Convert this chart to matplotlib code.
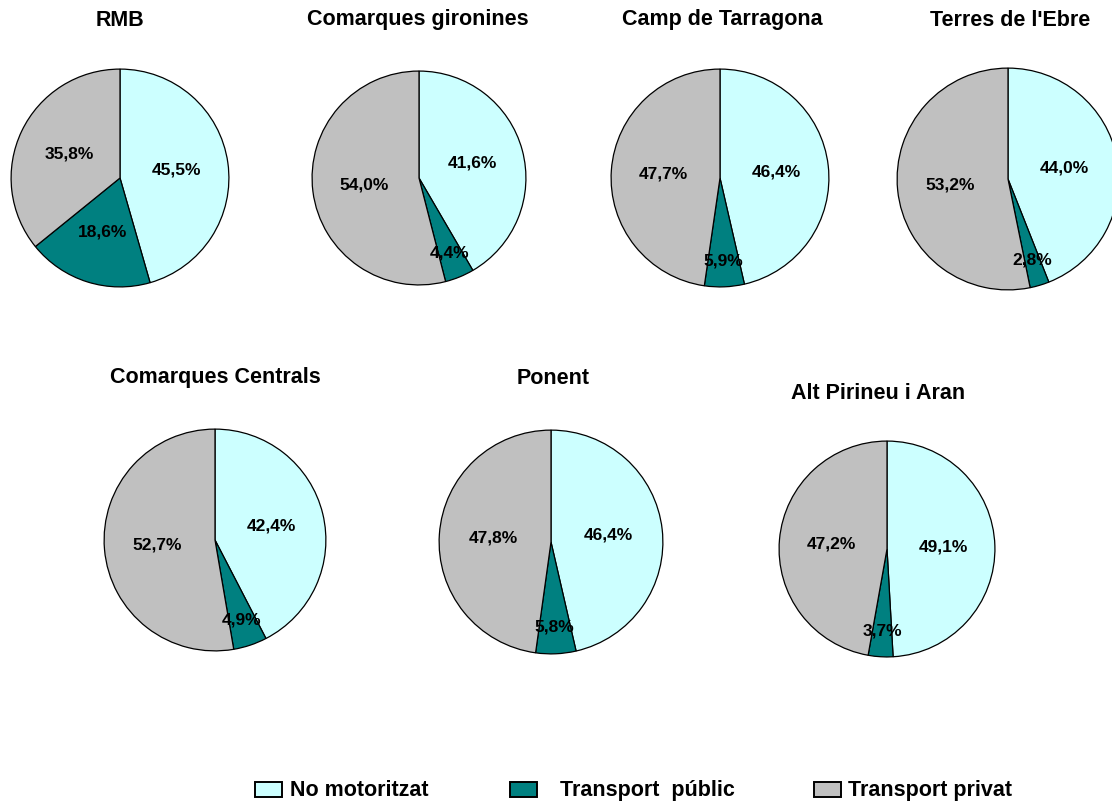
import matplotlib
matplotlib.use("Agg")
import matplotlib.pyplot as plt
import numpy as np

plt.rcParams['font.family'] = ['Liberation Sans', 'DejaVu Sans']

regions = ["RMB", "Comarques gironines", "Camp de Tarragona", "Terres de l'Ebre",
           "Comarques Centrals", "Ponent", "Alt Pirineu i Aran"]
series = ["No motoritzat", "Transport  públic", "Transport privat"]
no_motoritzat = [45.5, 41.6, 46.4, 44.0, 42.4, 46.4, 49.1]
transport_public = [18.6, 4.4, 5.9, 2.8, 4.9, 5.8, 3.7]
transport_privat = [35.8, 54.0, 47.7, 53.2, 52.7, 47.8, 47.2]

colors = ["#CCFFFF", "#008080", "#C0C0C0"]

W, H = 1112, 805
fig = plt.figure(figsize=(W / 100, H / 100), dpi=100)

# layout in pixels: (center x, center y, radius, title x, title y)
layout = [
    (120, 178, 110, 120, 20),
    (419, 178, 108, 418, 20),
    (720, 178, 110, 722, 20),
    (1008, 179, 112, 1010, 20),
    (215, 540, 112, 215, 378),
    (551, 542, 113, 553, 378),
    (887, 549, 109, 878, 393),
]

for i, name in enumerate(regions):
    vals = [no_motoritzat[i], transport_public[i], transport_privat[i]]
    cx, cy, r, tx, ty = layout[i]
    ax = fig.add_axes([(cx - r) / W, 1 - (cy + r) / H, 2 * r / W, 2 * r / H])
    wedges, _ = ax.pie(vals, colors=colors, startangle=90, counterclock=False,
                       radius=1.0,
                       wedgeprops=dict(edgecolor="black", linewidth=0.9))
    ax.set_xlim(-1.01, 1.01)
    ax.set_ylim(-1.01, 1.01)
    ax.set_aspect("equal")
    ax.axis("off")
    for w, v in zip(wedges, vals):
        mid = np.deg2rad((w.theta1 + w.theta2) / 2)
        rd = 0.52 if v > 10 else 0.76
        ax.text(rd * np.cos(mid), rd * np.sin(mid), f"{v:.1f}%".replace(".", ","),
                ha="center", va="center", fontsize=12.5, fontweight="bold")
    fig.text(tx / W, 1 - ty / H, name, ha="center", va="center",
             fontsize=15.5, fontweight="bold")

# legend
leg_x = [255, 510, 814]
text_x = [290, 560, 848]
for j, s in enumerate(series):
    fig.patches.append(plt.Rectangle((leg_x[j] / W, 1 - 797 / H), 27 / W, 15 / H,
                                     transform=fig.transFigure, facecolor=colors[j],
                                     edgecolor="black", linewidth=1.4))
    fig.text(text_x[j] / W, 1 - 790 / H, s, ha="left", va="center",
             fontsize=15.5, fontweight="bold")

fig.savefig("out.png", dpi=100, facecolor="white")
